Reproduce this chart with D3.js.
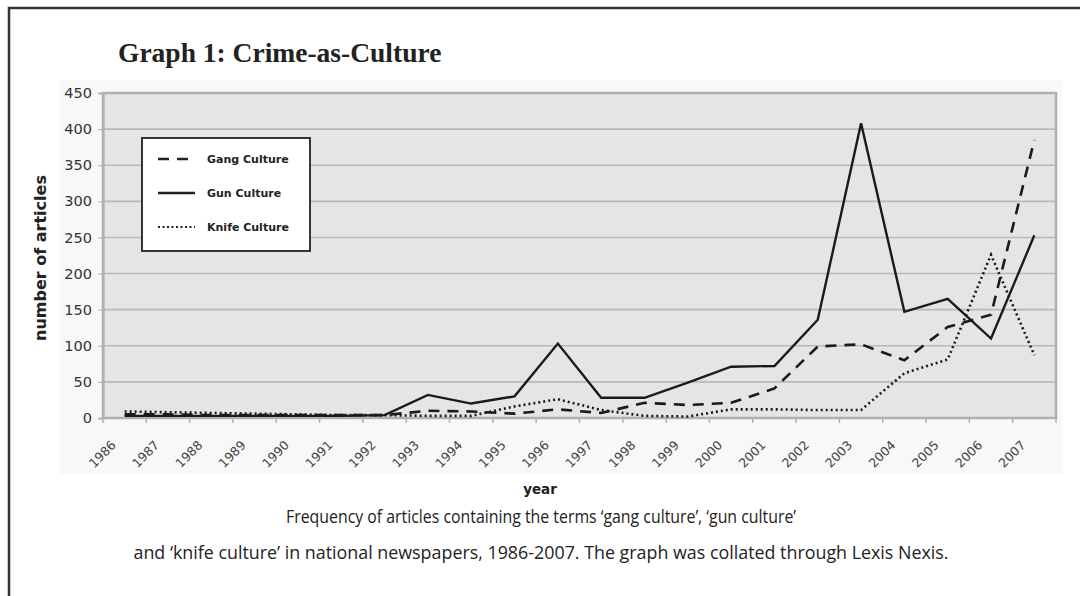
<!DOCTYPE html>
<html>
<head>
<meta charset="utf-8">
<script src="https://cdn.jsdelivr.net/npm/d3@7"></script>
<style>
  body { margin: 0; background: #fff; }
</style>
</head>
<body>
<div id="chart"></div>
<script>
// Graph 1: Crime-as-Culture - articles per year in national newspapers

// Data
var years = ["1986", "1987", "1988", "1989", "1990", "1991", "1992", "1993", "1994", "1995", "1996",
             "1997", "1998", "1999", "2000", "2001", "2002", "2003", "2004", "2005", "2006", "2007"];
var gangCulture  = [5, 5, 4, 4, 4, 4, 4, 10, 9, 6, 12, 7, 21, 18, 21, 41, 99, 102, 80, 126, 143, 385];
var gunCulture   = [3, 3, 3, 3, 3, 3, 4, 32, 20, 30, 103, 28, 28, 49, 71, 72, 136, 408, 147, 165, 110, 253];
var knifeCulture = [9, 8, 7, 6, 5, 4, 4, 3, 3, 16, 26, 11, 3, 2, 12, 12, 11, 11, 62, 81, 226, 87];
var yTicks = [0, 50, 100, 150, 200, 250, 300, 350, 400, 450];

var series = [
    {name: "Gang Culture", values: gangCulture, dash: "11,8", width: 2.6},
    {name: "Gun Culture", values: gunCulture, dash: null, width: 2.4},
    {name: "Knife Culture", values: knifeCulture, dash: "2,3", width: 2.6}
];

var svgWidth = 1080;
var svgHeight = 596;

// plot area inside the chart
var margin = {top: 93, right: 24, bottom: 178, left: 103};
var chartWidth = svgWidth - margin.left - margin.right;
var chartHeight = svgHeight - margin.top - margin.bottom;

var svg = d3.select("#chart").append("svg")
    .attr("width", svgWidth)
    .attr("height", svgHeight);

// page frame
svg.append("rect")
    .attr("x", 9)
    .attr("y", 8)
    .attr("width", 1200)
    .attr("height", 800)
    .attr("fill", "none")
    .attr("stroke", "#333")
    .attr("stroke-width", 2.5);

// faint chart area behind the plot
svg.append("rect")
    .attr("x", 60)
    .attr("y", 80)
    .attr("width", 1002)
    .attr("height", 394)
    .attr("fill", "#f8f8f8");

// title
svg.append("text")
    .attr("x", 118)
    .attr("y", 62)
    .attr("font-family", "'Liberation Serif', 'DejaVu Serif', serif")
    .attr("font-weight", "bold")
    .attr("font-size", "27.5px")
    .attr("fill", "#222")
    .text("Graph 1: Crime-as-Culture");

var chartGroup = svg.append("g")
    .attr("transform", `translate(${margin.left}, ${margin.top})`);

var xScale = d3.scaleBand()
    .domain(years)
    .range([0, chartWidth]);

var yScale = d3.scaleLinear()
    .domain([0, 450])
    .range([chartHeight, 0]);

// plot background
chartGroup.append("rect")
    .attr("width", chartWidth)
    .attr("height", chartHeight)
    .attr("fill", "#e5e5e5");

// horizontal gridlines
chartGroup.selectAll(".grid")
    .data(yTicks.filter(d => d > 0))
    .enter()
    .append("line")
    .attr("x1", 0)
    .attr("x2", chartWidth)
    .attr("y1", d => yScale(d))
    .attr("y2", d => yScale(d))
    .attr("stroke", "#b9b9b9")
    .attr("stroke-width", 1.6);

chartGroup.append("rect")
    .attr("width", chartWidth)
    .attr("height", chartHeight)
    .attr("fill", "none")
    .attr("stroke", "#b0b0b0")
    .attr("stroke-width", 2.5);

// y axis
var yAxis = d3.axisLeft(yScale).tickValues(yTicks).tickSize(5).tickPadding(6);
var yAxisGroup = chartGroup.append("g").call(yAxis);
yAxisGroup.select(".domain").attr("stroke", "#b0b0b0").attr("stroke-width", 2);
yAxisGroup.selectAll(".tick line").attr("stroke", "#b0b0b0");
yAxisGroup.selectAll("text")
    .attr("font-family", "'DejaVu Sans', Verdana, sans-serif")
    .attr("font-size", "14.5px")
    .attr("fill", "#333");

// x axis: ticks between the years
var xAxisGroup = chartGroup.append("g")
    .attr("transform", `translate(0, ${chartHeight})`);

xAxisGroup.append("line")
    .attr("x1", 0)
    .attr("x2", chartWidth)
    .attr("stroke", "#b0b0b0")
    .attr("stroke-width", 2);

xAxisGroup.selectAll(".xtick")
    .data(years.concat(["end"]))
    .enter()
    .append("line")
    .attr("x1", (d, i) => i * xScale.step())
    .attr("x2", (d, i) => i * xScale.step())
    .attr("y1", 0)
    .attr("y2", 5)
    .attr("stroke", "#b0b0b0")
    .attr("stroke-width", 1.5);

xAxisGroup.selectAll(".xlabel")
    .data(years)
    .enter()
    .append("text")
    .attr("transform", d => `translate(${xScale(d) + xScale.bandwidth() / 2 - 8}, 28) rotate(-45)`)
    .attr("text-anchor", "end")
    .attr("font-family", "'DejaVu Sans', Verdana, sans-serif")
    .attr("font-size", "12.5px")
    .attr("fill", "#444")
    .text(d => d);

// lines
var line = d3.line()
    .x((d, i) => xScale(years[i]) + xScale.bandwidth() / 2)
    .y(d => yScale(d));

chartGroup.selectAll(".series")
    .data(series)
    .enter()
    .append("path")
    .attr("d", d => line(d.values))
    .attr("fill", "none")
    .attr("stroke", "#1a1a1a")
    .attr("stroke-width", d => d.width)
    .attr("stroke-dasharray", d => d.dash)
    .attr("stroke-linejoin", "miter");

// legend
var legend = svg.append("g")
    .attr("transform", "translate(142, 138)");

legend.append("rect")
    .attr("width", 168)
    .attr("height", 113)
    .attr("fill", "#fff")
    .attr("stroke", "#222")
    .attr("stroke-width", 1.8);

var legendItems = legend.selectAll(".legend-item")
    .data(series)
    .enter()
    .append("g")
    .attr("transform", (d, i) => `translate(0, ${21 + i * 34})`);

legendItems.append("line")
    .attr("x1", 16)
    .attr("x2", 53)
    .attr("stroke", "#222")
    .attr("stroke-width", d => d.dash === "2,3" ? 2 : 2.6)
    .attr("stroke-dasharray", d => d.dash === "2,3" ? "2,2.5" : d.dash);

legendItems.append("text")
    .attr("x", 65)
    .attr("y", 4)
    .attr("font-family", "'DejaVu Sans', Verdana, sans-serif")
    .attr("font-weight", "bold")
    .attr("font-size", "11px")
    .attr("fill", "#222")
    .text(d => d.name);

// axis titles
svg.append("text")
    .attr("transform", "translate(46, 258) rotate(-90)")
    .attr("text-anchor", "middle")
    .attr("font-family", "'DejaVu Sans', Verdana, sans-serif")
    .attr("font-weight", "bold")
    .attr("font-size", "16px")
    .attr("fill", "#222")
    .text("number of articles");

svg.append("text")
    .attr("x", 540)
    .attr("y", 494)
    .attr("text-anchor", "middle")
    .attr("font-family", "'DejaVu Sans', Verdana, sans-serif")
    .attr("font-weight", "bold")
    .attr("font-size", "13.5px")
    .attr("fill", "#222")
    .text("year");

// caption (narrow face in the original, so squeeze to its width)
var captionLines = [
    "Frequency of articles containing the terms \u2018gang culture\u2019, \u2018gun culture\u2019",
    "and \u2018knife culture\u2019 in national newspapers, 1986-2007. The graph was collated through Lexis Nexis."
];
var captionWidths = [510, 815];

svg.selectAll(".caption")
    .data(captionLines)
    .enter()
    .append("text")
    .attr("x", (d, i) => 541 - captionWidths[i] / 2)
    .attr("y", (d, i) => 523 + i * 36)
    .attr("textLength", (d, i) => captionWidths[i])
    .attr("lengthAdjust", "spacingAndGlyphs")
    .attr("font-family", "'Open Sans', sans-serif")
    .attr("font-size", "19px")
    .attr("fill", "#222")
    .text(d => d);
</script>
</body>
</html>
